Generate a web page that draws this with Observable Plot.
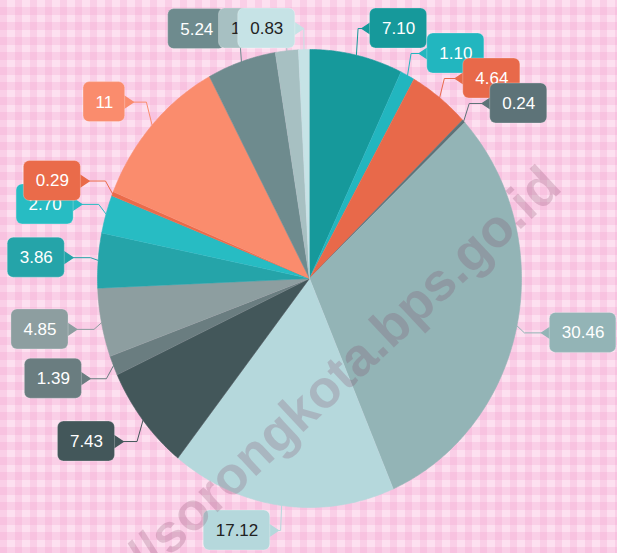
<!DOCTYPE html>
<html><head><meta charset="utf-8">
<script src="https://cdn.jsdelivr.net/npm/d3@7"></script>
<script src="https://cdn.jsdelivr.net/npm/@observablehq/plot@0.6"></script>
<style>
html,body{margin:0;padding:0;}
body{width:617px;height:553px;overflow:hidden;background-color:#fde0f0;
background-image:linear-gradient(90deg, rgba(240,140,195,0.2) 50%, transparent 50%), linear-gradient(0deg, rgba(240,140,195,0.2) 50%, transparent 50%);
background-size:15px 15px;}
#chart svg{display:block;}
</style></head><body><div id="chart"></div>
<script>
// ---- data ----
const values = [7.10, 1.10, 4.64, 0.24, 30.46, 17.12, 7.43, 1.39, 4.85, 3.86, 2.70, 0.29, 11, 5.24, 1.75, 0.83];
const colors = ["#16999b","#22b6bf","#e8694a","#5d7378","#93b4b6","#b5d8dc","#43575a","#6a7d80","#8d9ea0","#25a4a9","#27bcc3","#ea6b4a","#fa8c6d","#6e8b8e","#a7c0c2","#c6e3e6"];
const watermark = "https://sorongkota.bps.go.id";

// ---- layout ----
const W = 617, H = 553, CX = 309, CY = 278, RX = 212, RY = 229;
const ux = px => (px - CX) / RX, uy = py => (CY - py) / RY;
const pie = d3.pie().sort(null).value(d => d)(values);

const slicePts = [];
pie.forEach((p, i) => {
  const n = Math.max(2, Math.ceil((p.endAngle - p.startAngle) / 0.01));
  slicePts.push({i, x: 0, y: 0, color: colors[i]});
  for (let k = 0; k <= n; k++) {
    const a = p.startAngle + (p.endAngle - p.startAngle) * k / n;
    slicePts.push({i, x: Math.sin(a), y: Math.cos(a), color: colors[i]});
  }
});

const FONT = 17, PAD = 12, BH = 40, PTR = 8;
const ctx = document.createElement("canvas").getContext("2d");
ctx.font = `${FONT}px "Liberation Sans"`;
const fmt = v => Number.isInteger(v) ? String(v) : v.toFixed(2);

const labels = pie.map((p, i) => {
  const a = (p.startAngle + p.endAngle) / 2;
  const s = Math.sin(a), c = Math.cos(a);
  const text = fmt(values[i]);
  return {i, right: s >= 0, text, tw: ctx.measureText(text).width,
    color: colors[i],
    p0x: CX + RX * s, p0y: CY - RY * c,
    tipX: CX + 1.12 * RX * s, ly: CY - 1.15 * RY * c};
});
labels.forEach(l => { l.ly = Math.max(28, Math.min(530, l.ly)); });
const rightSide = labels.filter(l => l.right).sort((a, b) => a.ly - b.ly);
for (let k = 1; k < rightSide.length; k++) rightSide[k].ly = Math.max(rightSide[k].ly, rightSide[k - 1].ly + 25);

labels.forEach(l => {
  const bw = l.tw + 2 * PAD;
  if (l.right) { l.x1 = l.tipX + PTR; l.x2 = l.x1 + bw; }
  else { l.x2 = l.tipX - PTR; l.x1 = l.x2 - bw; }
  l.y1 = l.ly - BH / 2; l.y2 = l.ly + BH / 2;
  l.tx = (l.x1 + l.x2) / 2;
  const edge = l.right ? l.x1 + 1 : l.x2 - 1;
  l.ptr = [[edge, l.ly - 6], [l.tipX, l.ly], [edge, l.ly + 6]].map(([x, y]) => ({x: ux(x), y: uy(y)}));
  l.conn = [[l.p0x, l.p0y], [l.p0x + 0.3 * (l.tipX - l.p0x), l.ly], [l.tipX, l.ly]].map(([x, y]) => ({x: ux(x), y: uy(y)}));
  l.textColor = d3.lab(l.color).l > 74 ? "#222222" : "#ffffff";
});

const marks = [
  Plot.line(slicePts, {x: "x", y: "y", z: "i", fill: "color", stroke: "color", strokeWidth: 0.6}),
  ...labels.map(l => Plot.line(l.conn, {x: "x", y: "y", stroke: l.color, strokeWidth: 1}))
];
labels.forEach(l => {
  marks.push(Plot.line(l.ptr, {x: "x", y: "y", fill: l.color, stroke: l.color}));
  marks.push(Plot.rect([l], {x1: d => ux(d.x1), x2: d => ux(d.x2), y1: d => uy(d.y2), y2: d => uy(d.y1),
    rx: 6, fill: l.color, stroke: "#ffffff", strokeOpacity: 0.25}));
  marks.push(Plot.text([l], {x: d => ux(d.tx), y: d => uy(d.ly), text: "text", fill: l.textColor,
    fontSize: FONT, fontFamily: "Liberation Sans"}));
});
marks.push(Plot.text([watermark], {frameAnchor: "middle", dx: 243, dy: -100, rotate: -43, textAnchor: "end",
  fontSize: 53, fontWeight: "bold", fontFamily: "Liberation Sans", fill: "#804060", fillOpacity: 0.22}));

const chart = Plot.plot({
  width: W, height: H, margin: 0,
  x: {domain: [ux(0), ux(W)], axis: null},
  y: {domain: [uy(H), uy(0)], axis: null},
  style: {background: "transparent", overflow: "visible"},
  marks
});
document.getElementById("chart").append(chart);
</script></body></html>
